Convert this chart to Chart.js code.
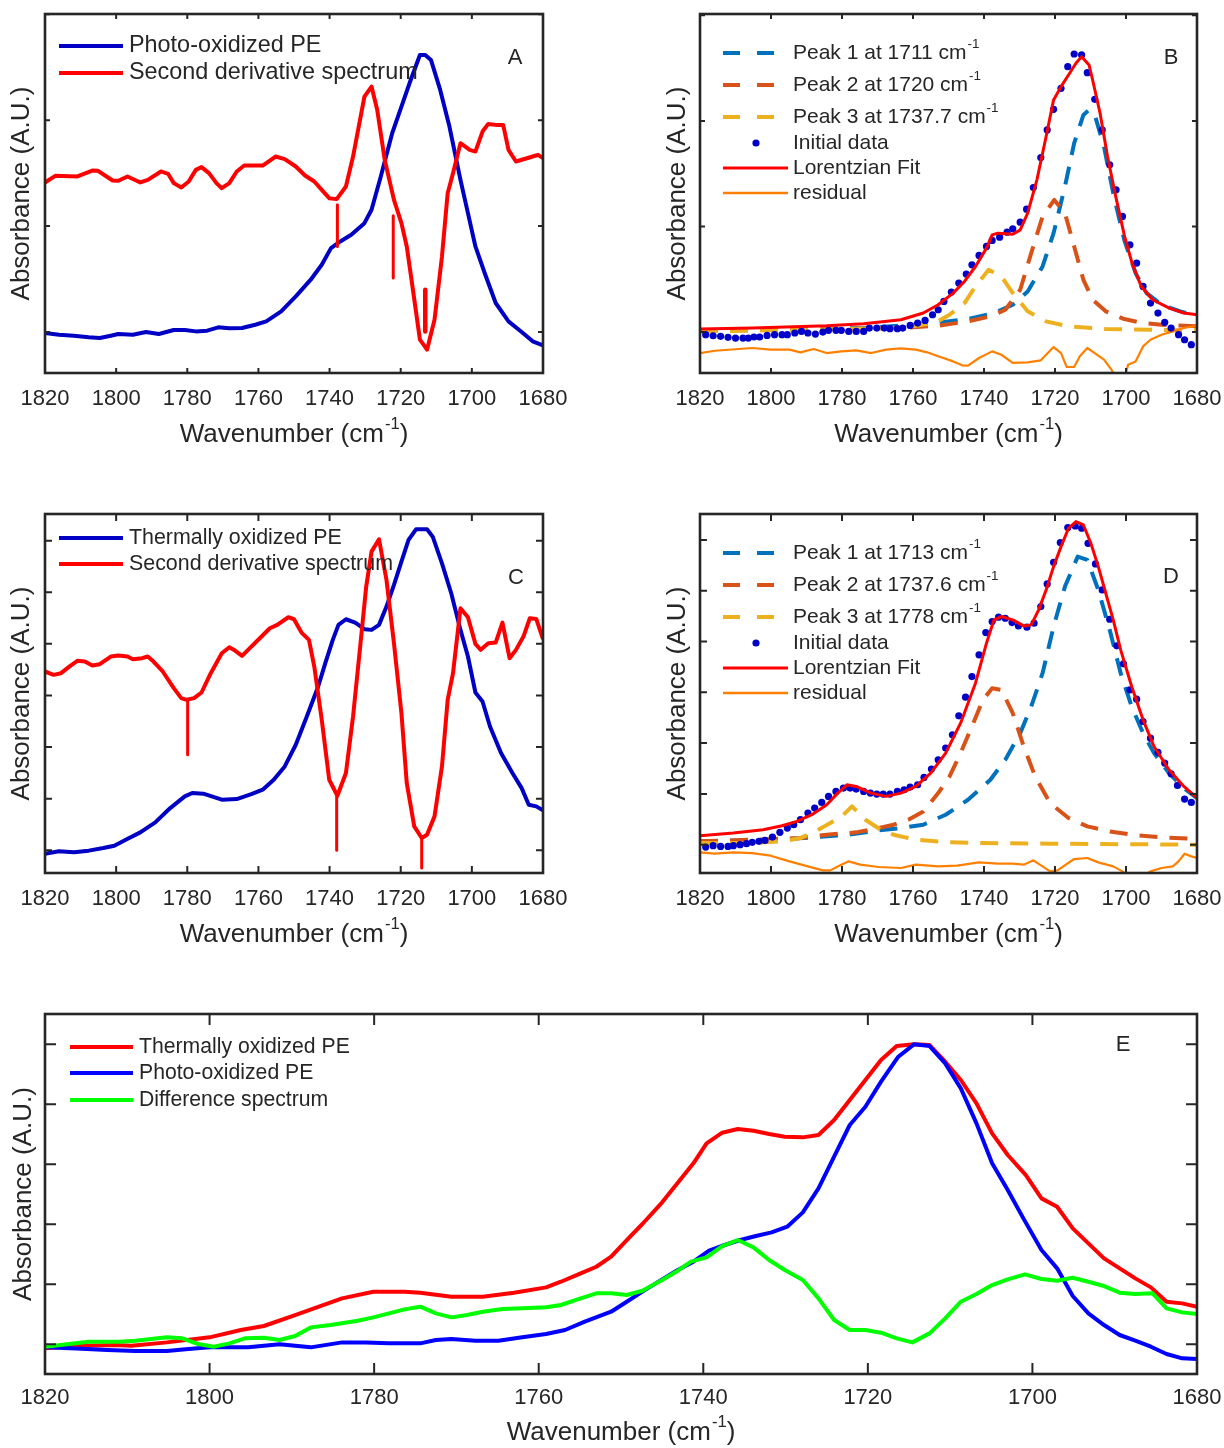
<!DOCTYPE html>
<html>
<head>
<meta charset="utf-8">
<script src="https://cdn.jsdelivr.net/npm/chart.js@4.4.1/dist/chart.umd.min.js"></script>
<style>
  html, body { margin: 0; padding: 0; background: #fff; }
  body { width: 1224px; height: 1448px; position: relative; overflow: hidden; }
  canvas { position: absolute; }
</style>
</head>
<body>
<canvas id="cA" width="612" height="470" style="left:0;top:0"></canvas>
<canvas id="cB" width="612" height="470" style="left:612px;top:0"></canvas>
<canvas id="cC" width="612" height="470" style="left:0;top:500px"></canvas>
<canvas id="cD" width="612" height="470" style="left:612px;top:500px"></canvas>
<canvas id="cE" width="1224" height="448" style="left:0;top:1000px"></canvas>
<script>
// ---------------- data (wavenumber cm-1, absorbance A.U.) ----------------
const xTickVals = [1820, 1800, 1780, 1760, 1740, 1720, 1700, 1680];
const yTicksA = [0, 1, 2, 3];
const yTicksB = [0, 1, 2, 3];
const yTicksC = [0, 1, 2, 3, 4, 5, 6];
const yTicksD = [0, 1, 2, 3, 4, 5, 6];
const yTicksE = [0, 1, 2, 3, 4, 5];
const xTitle = ['Wavenumber (cm', '-1', ')'];
const yTitle = 'Absorbance (A.U.)';
const panelLetters = ['A', 'B', 'C', 'D', 'E'];

// Panel A
const aLabels = ['Photo-oxidized PE', 'Second derivative spectrum'];
const aPhoto = [[1820,-0.01],[1816.1,-0.025],[1811.9,-0.035],[1807.7,-0.05],[1804.6,-0.057],[1801.5,-0.035],[1799.4,-0.019],[1795.3,-0.025],[1791.6,0],[1788.0,-0.019],[1783.8,0.019],[1780.7,0.019],[1777.6,0.006],[1774.4,0.013],[1771.3,0.044],[1768.2,0.035],[1764.6,0.038],[1760.9,0.069],[1757.8,0.1],[1753.6,0.195],[1749.5,0.336],[1745.3,0.494],[1742.2,0.635],[1739.6,0.792],[1737.0,0.855],[1733.9,0.918],[1730.2,1.028],[1728.2,1.154],[1725.6,1.469],[1722.4,1.877],[1719.8,2.129],[1717.2,2.38],[1714.6,2.616],[1713.1,2.616],[1711.5,2.569],[1708.9,2.286],[1706.3,1.94],[1703.2,1.437],[1701.1,1.123],[1699.0,0.808],[1696.4,0.557],[1693.3,0.274],[1689.7,0.1],[1686.0,0],[1682.9,-0.088],[1680,-0.126]];
const aDeriv = [[1820,1.412],[1817.1,1.475],[1810.9,1.469],[1806.7,1.525],[1805.1,1.522],[1801.0,1.431],[1799.4,1.428],[1796.8,1.469],[1793.2,1.412],[1791.1,1.437],[1787.4,1.516],[1785.4,1.494],[1783.8,1.406],[1781.7,1.365],[1779.6,1.421],[1777.6,1.531],[1776.0,1.557],[1773.9,1.5],[1771.8,1.406],[1770.3,1.358],[1768.2,1.406],[1766.1,1.516],[1764.0,1.572],[1758.8,1.572],[1755.2,1.657],[1752.6,1.632],[1749.5,1.563],[1746.9,1.478],[1744.3,1.421],[1742.2,1.343],[1740.1,1.264],[1738.0,1.255],[1735.4,1.374],[1733.4,1.657],[1731.8,1.94],[1730.2,2.223],[1728.2,2.318],[1726.6,2.097],[1724.5,1.626],[1721.9,1.248],[1719.8,1.028],[1718.3,0.808],[1716.7,0.431],[1714.6,-0.072],[1712.6,-0.167],[1710.5,0.116],[1708.4,0.714],[1706.8,1.311],[1705.3,1.5],[1703.2,1.783],[1700.6,1.72],[1699.0,1.704],[1697.0,1.893],[1695.4,1.965],[1693.3,1.956],[1691.2,1.956],[1689.7,1.72],[1687.6,1.61],[1682.9,1.657],[1681.4,1.673],[1680,1.642]];
const aMark1 = [[1737.8,1.201],[1737.8,0.808]];
const aMark2 = [[1722.1,1.097],[1722.1,0.509]];
const aMark3 = [[1713.1,0.40],[1713.1,0.006]];

// Panel B
const bLabels = [['Peak 1 at 1711 cm','-1'],['Peak 2 at 1720 cm','-1'],['Peak 3 at 1737.7 cm','-1'],['Initial data',''],['Lorentzian Fit',''],['residual','']];
const bData = [[1818.4,-0.025],[1816.3,-0.035],[1814.2,-0.041],[1812.1,-0.05],[1810.0,-0.057],[1807.9,-0.057],[1806.4,-0.057],[1804.8,-0.047],[1803.2,-0.047],[1801.1,-0.032],[1799.0,-0.025],[1796.9,-0.025],[1795.4,-0.025],[1793.3,-0.009],[1791.4,0.006],[1789.6,-0.009],[1787.5,-0.019],[1785.4,0],[1783.8,0.016],[1781.7,0.016],[1780.2,0.016],[1778.1,0.006],[1776.0,0.006],[1773.9,0.006],[1772.3,0.038],[1770.2,0.038],[1768.1,0.038],[1766.5,0.032],[1764.4,0.032],[1762.9,0.038],[1760.8,0.063],[1758.7,0.085],[1756.6,0.11],[1754.5,0.164],[1752.9,0.211],[1751.3,0.29],[1749.2,0.379],[1747.1,0.464],[1745.0,0.549],[1743.4,0.637],[1741.4,0.726],[1739.3,0.811],[1737.7,0.868],[1735.6,0.899],[1733.5,0.946],[1731.9,0.978],[1729.8,1.041],[1728.0,1.164],[1726.1,1.369],[1724.0,1.653],[1722.2,1.915],[1720.4,2.11],[1718.3,2.309],[1716.4,2.514],[1714.6,2.634],[1712.5,2.625],[1710.9,2.457],[1708.8,2.205],[1706.7,1.915],[1704.6,1.584],[1702.8,1.347],[1701.0,1.095],[1698.9,0.826],[1697.0,0.653],[1695.2,0.432],[1693.1,0.274],[1691.0,0.18],[1689.1,0.091],[1687.3,0.038],[1685.2,-0.025],[1683.5,-0.073],[1681.6,-0.12]];
const bFit = [[1820,0.028],[1805.3,0.038],[1784.3,0.06],[1773.9,0.079],[1763.4,0.117],[1757.1,0.18],[1752.9,0.259],[1748.7,0.369],[1745.5,0.479],[1742.4,0.621],[1739.3,0.795],[1737.7,0.921],[1736.1,0.937],[1731.9,0.927],[1729.8,0.968],[1727.7,1.126],[1725.1,1.442],[1722.5,1.852],[1720.4,2.199],[1718.3,2.325],[1716.2,2.435],[1714.1,2.546],[1712.5,2.609],[1710.4,2.53],[1709.4,2.388],[1707.3,2.073],[1705.2,1.663],[1703.1,1.316],[1700.4,0.905],[1698.3,0.653],[1695.7,0.432],[1692.5,0.306],[1687.8,0.227],[1683.7,0.18],[1680,0.164]];
const bPeak1 = [[1820,0.013],[1794.8,0.022],[1773.9,0.038],[1755.0,0.079],[1744.5,0.123],[1737.2,0.18],[1731.9,0.259],[1727.7,0.385],[1723.5,0.621],[1720.4,0.937],[1717.2,1.379],[1714.6,1.789],[1712.0,2.057],[1710.4,2.104],[1708.8,2.057],[1706.2,1.757],[1703.6,1.315],[1700.5,0.874],[1697.3,0.558],[1694.2,0.369],[1690.0,0.259],[1684.7,0.196],[1680,0.155]];
const bPeak2 = [[1820,0.013],[1763.4,0.038],[1752.9,0.06],[1744.5,0.101],[1738.2,0.148],[1734.0,0.211],[1729.8,0.401],[1726.7,0.748],[1723.5,1.095],[1720.2,1.252],[1717.2,1.126],[1714.6,0.811],[1712.0,0.495],[1709.4,0.306],[1705.7,0.196],[1700.5,0.123],[1695.2,0.085],[1690.0,0.069],[1680,0.054]];
const bPeak3 = [[1820,0.006],[1763.4,0.038],[1753.9,0.085],[1749.7,0.164],[1745.5,0.274],[1742.4,0.432],[1738.7,0.59],[1735.1,0.527],[1731.9,0.369],[1727.7,0.196],[1722.5,0.101],[1716.2,0.054],[1705.7,0.028],[1680,0.016]];
const bResid = [[1820,-0.199],[1815.8,-0.177],[1805.3,-0.151],[1800.1,-0.167],[1794.8,-0.167],[1791.7,-0.192],[1788.0,-0.161],[1784.3,-0.199],[1780.2,-0.183],[1776.0,-0.174],[1771.8,-0.199],[1767.6,-0.167],[1763.4,-0.155],[1759.2,-0.167],[1756.0,-0.192],[1752.9,-0.23],[1748.7,-0.278],[1746.1,-0.315],[1744.5,-0.319],[1741.4,-0.246],[1737.7,-0.183],[1735.1,-0.215],[1731.9,-0.293],[1727.7,-0.287],[1724.0,-0.268],[1720.4,-0.142],[1718.3,-0.199],[1716.7,-0.331],[1714.6,-0.331],[1713.0,-0.23],[1710.9,-0.151],[1708.8,-0.199],[1706.2,-0.262],[1704.1,-0.356],[1702.0,-0.5],[1700.5,-0.45],[1699.4,-0.309],[1697.3,-0.278],[1695.2,-0.136],[1693.1,-0.073],[1690.0,-0.025],[1686.8,0.006],[1683.7,0.038],[1680,0.06]];

// Panel C
const cLabels = ['Thermally oxidized PE', 'Second derivative spectrum'];
const cThermal = [[1820,-0.065],[1816.1,-0.019],[1811.9,-0.039],[1807.7,-0.006],[1803.6,0.045],[1800.5,0.09],[1797.3,0.206],[1793.2,0.348],[1789.0,0.542],[1784.8,0.819],[1780.7,1.045],[1778.6,1.11],[1775.5,1.097],[1770.3,0.981],[1766.1,0.994],[1762.0,1.09],[1758.8,1.174],[1755.7,1.368],[1752.6,1.626],[1749.5,2.045],[1746.4,2.594],[1743.2,3.174],[1741.2,3.626],[1739.1,4.077],[1737.5,4.368],[1735.4,4.477],[1732.8,4.413],[1730.2,4.284],[1728.2,4.271],[1726.1,4.368],[1724.0,4.723],[1721.9,5.142],[1719.8,5.594],[1717.8,6.013],[1715.7,6.219],[1712.6,6.219],[1711.0,6.077],[1708.4,5.561],[1705.8,4.981],[1703.2,4.271],[1701.1,3.755],[1699.0,3.058],[1697.0,2.884],[1694.9,2.4],[1691.8,1.884],[1688.6,1.497],[1686.0,1.206],[1684.0,0.884],[1681.9,0.852],[1680,0.774]];
const cDeriv = [[1820,3.465],[1817.6,3.4],[1815.5,3.432],[1812.9,3.574],[1810.9,3.671],[1808.8,3.658],[1806.7,3.581],[1804.6,3.606],[1801.5,3.755],[1799.4,3.774],[1796.8,3.755],[1795.3,3.703],[1792.7,3.723],[1791.1,3.755],[1789.5,3.658],[1786.9,3.465],[1783.8,3.142],[1781.7,2.948],[1780.2,2.916],[1778.1,2.948],[1776.0,3.058],[1773.4,3.432],[1770.3,3.819],[1768.2,3.935],[1766.6,3.871],[1764.6,3.768],[1762.0,3.948],[1759.9,4.09],[1756.8,4.303],[1754.7,4.368],[1751.6,4.516],[1750.0,4.477],[1747.9,4.219],[1745.8,4.077],[1744.3,3.561],[1742.2,2.529],[1740.1,1.368],[1737.8,1.058],[1735.4,1.497],[1733.4,2.594],[1731.3,4.013],[1729.7,5.11],[1728.2,5.787],[1726.1,6.026],[1724.0,5.239],[1721.9,4.013],[1719.8,2.658],[1718.3,1.303],[1716.2,0.465],[1714.1,0.239],[1712.6,0.303],[1710.5,0.658],[1708.4,1.626],[1706.8,2.916],[1705.3,3.432],[1703.2,4.69],[1701.1,4.516],[1699.0,4.0],[1697.5,3.884],[1695.4,4.013],[1693.3,4.026],[1691.4,4.413],[1689.4,3.723],[1687.6,3.884],[1685.5,4.142],[1683.7,4.497],[1681.9,4.484],[1680,4.09]];
const cMark1 = [[1779.9,2.916],[1779.9,1.852]];
const cMark2 = [[1738.0,1.045],[1738.0,0]];
const cMark3 = [[1714.1,0.239],[1714.1,-0.342]];

// Panel D
const dLabels = [['Peak 1 at 1713 cm','-1'],['Peak 2 at 1737.6 cm','-1'],['Peak 3 at 1778 cm','-1'],['Initial data',''],['Lorentzian Fit',''],['residual','']];
const dData = [[1818.4,-0.046],[1816.3,-0.02],[1814.2,-0.033],[1812.1,-0.033],[1810.6,-0.02],[1808.7,0],[1806.9,0.02],[1805.3,0.046],[1803.4,0.066],[1801.7,0.085],[1799.6,0.151],[1797.5,0.243],[1795.4,0.328],[1793.6,0.393],[1791.7,0.492],[1789.6,0.623],[1787.7,0.721],[1785.7,0.833],[1783.8,0.951],[1781.7,1.049],[1779.6,1.115],[1777.7,1.115],[1776.0,1.095],[1773.9,1.049],[1772.0,1.016],[1770.2,0.997],[1768.4,0.997],[1766.5,0.997],[1764.4,1.049],[1762.5,1.082],[1760.8,1.134],[1758.7,1.18],[1756.9,1.325],[1754.8,1.489],[1752.9,1.672],[1750.8,1.902],[1748.9,2.164],[1747.1,2.538],[1745.2,2.905],[1743.4,3.311],[1741.4,3.738],[1739.5,4.177],[1737.7,4.393],[1735.9,4.479],[1734.0,4.459],[1732.1,4.374],[1730.3,4.308],[1727.9,4.282],[1725.9,4.361],[1724.0,4.689],[1722.2,5.134],[1720.4,5.561],[1718.5,5.948],[1716.4,6.243],[1714.3,6.275],[1712.5,6.23],[1710.7,5.934],[1708.6,5.528],[1706.7,5.016],[1704.6,4.439],[1702.6,3.915],[1700.7,3.561],[1698.9,3.049],[1697.0,2.866],[1695.2,2.426],[1693.1,2.098],[1691.0,1.816],[1689.1,1.607],[1687.3,1.397],[1685.5,1.167],[1683.5,0.898],[1681.6,0.833]];
const dFit = [[1820,0.177],[1810.6,0.23],[1802.2,0.295],[1796.9,0.374],[1792.7,0.459],[1788.5,0.59],[1784.3,0.787],[1781.2,1.016],[1778.6,1.18],[1776.0,1.148],[1771.8,1.016],[1767.6,0.951],[1763.4,1.016],[1759.2,1.148],[1755.0,1.41],[1750.8,1.803],[1746.6,2.393],[1742.4,3.18],[1739.3,3.967],[1737.2,4.426],[1735.1,4.492],[1731.9,4.426],[1728.8,4.308],[1726.7,4.328],[1724.6,4.623],[1722.5,5.016],[1720.4,5.475],[1718.3,5.869],[1716.2,6.23],[1714.1,6.361],[1712.0,6.295],[1709.9,5.934],[1707.8,5.475],[1705.7,4.951],[1703.6,4.426],[1701.5,3.836],[1698.4,3.115],[1695.2,2.459],[1692.1,1.934],[1687.9,1.475],[1683.7,1.148],[1680,0.918]];
const dPeak1 = [[1820,0.066],[1809.5,0.085],[1799.0,0.098],[1788.5,0.144],[1778.1,0.197],[1769.7,0.282],[1763.4,0.328],[1757.1,0.393],[1750.8,0.59],[1744.5,0.885],[1738.2,1.279],[1734.0,1.672],[1729.8,2.197],[1726.7,2.721],[1723.5,3.377],[1720.4,4.295],[1717.2,5.082],[1713.6,5.672],[1710.9,5.607],[1707.8,5.016],[1704.6,4.23],[1701.5,3.377],[1698.4,2.721],[1695.2,2.197],[1692.1,1.803],[1687.9,1.41],[1683.7,1.115],[1680,0.918]];
const dPeak2 = [[1820,0.066],[1805.3,0.098],[1791.7,0.131],[1784.3,0.197],[1776.0,0.243],[1769.7,0.328],[1765.5,0.393],[1761.3,0.492],[1757.1,0.656],[1752.9,1.016],[1749.7,1.344],[1746.6,1.803],[1743.4,2.328],[1740.3,2.852],[1737.7,3.082],[1735.1,3.049],[1731.9,2.59],[1728.8,1.934],[1725.6,1.344],[1721.4,0.82],[1716.2,0.525],[1710.9,0.361],[1704.6,0.262],[1698.4,0.197],[1690.0,0.144],[1680,0.111]];
const dPeak3 = [[1820,0.033],[1805.3,0.033],[1796.9,0.066],[1791.7,0.131],[1787.5,0.262],[1783.3,0.426],[1779.6,0.59],[1777.2,0.754],[1773.4,0.492],[1769.1,0.295],[1765.5,0.197],[1759.2,0.098],[1750.8,0.052],[1742.4,0.033],[1721.4,0.02],[1680,0]];
const dResid = [[1820,-0.151],[1815.8,-0.177],[1810.6,-0.151],[1805.3,-0.164],[1800.1,-0.216],[1794.8,-0.328],[1789.6,-0.426],[1785.4,-0.505],[1783.3,-0.505],[1780.2,-0.393],[1778.1,-0.328],[1774.9,-0.393],[1769.7,-0.439],[1763.4,-0.459],[1759.2,-0.393],[1752.9,-0.426],[1747.6,-0.413],[1741.4,-0.348],[1736.1,-0.374],[1731.9,-0.374],[1728.8,-0.393],[1726.1,-0.308],[1723.5,-0.426],[1721.4,-0.525],[1719.3,-0.505],[1714.6,-0.282],[1710.9,-0.262],[1707.8,-0.348],[1703.6,-0.426],[1701.0,-0.525],[1699.4,-0.623],[1696.3,-0.656],[1693.1,-0.525],[1690.0,-0.459],[1686.8,-0.426],[1685.2,-0.328],[1683.5,-0.177],[1681.6,-0.23],[1680,-0.262]];

// Panel E
const eLabels = ['Thermally oxidized PE', 'Photo-oxidized PE', 'Difference spectrum'];
const eThermal = [[1820,-0.067],[1816.2,-0.028],[1811.4,-0.011],[1809.5,-0.022],[1805.2,0.033],[1800.0,0.117],[1796.2,0.239],[1793.4,0.306],[1789.6,0.489],[1783.9,0.767],[1780.1,0.878],[1776.3,0.878],[1774.4,0.861],[1770.6,0.794],[1766.8,0.794],[1763.0,0.861],[1759.1,0.95],[1757.3,1.044],[1754.9,1.183],[1753.0,1.294],[1751.2,1.461],[1749.3,1.739],[1747.4,2.006],[1745.0,2.367],[1743.1,2.694],[1741.2,3.017],[1739.6,3.35],[1737.7,3.528],[1735.8,3.589],[1733.9,3.561],[1732.0,3.506],[1730.1,3.461],[1727.9,3.45],[1726.0,3.489],[1724.1,3.739],[1722.2,4.072],[1720.3,4.406],[1718.4,4.739],[1716.5,4.972],[1714.4,5.0],[1712.5,4.989],[1710.6,4.711],[1708.7,4.406],[1706.8,4.017],[1704.9,3.517],[1703.0,3.156],[1700.8,2.822],[1698.9,2.433],[1697.0,2.294],[1695.1,1.933],[1693.2,1.683],[1691.3,1.433],[1689.4,1.267],[1687.5,1.1],[1685.6,0.95],[1683.7,0.711],[1681.8,0.683],[1680,0.628]];
const ePhoto = [[1820,-0.05],[1816.2,-0.067],[1812.4,-0.094],[1809.0,-0.111],[1805.2,-0.111],[1802.9,-0.083],[1800.0,-0.05],[1795.3,-0.05],[1791.5,0],[1787.7,-0.05],[1783.9,0.033],[1781.0,0.033],[1778.2,0.017],[1774.4,0.017],[1772.5,0.072],[1770.6,0.089],[1767.7,0.061],[1764.9,0.061],[1762.0,0.117],[1759.1,0.172],[1756.8,0.239],[1754.4,0.378],[1751.2,0.544],[1749.3,0.711],[1747.4,0.878],[1745.0,1.083],[1743.1,1.239],[1741.2,1.378],[1739.3,1.561],[1737.4,1.656],[1735.5,1.739],[1733.6,1.806],[1731.7,1.867],[1729.8,1.961],[1727.9,2.2],[1726.0,2.6],[1724.1,3.128],[1722.2,3.656],[1720.3,3.961],[1718.4,4.378],[1716.3,4.794],[1714.4,5.0],[1712.5,4.972],[1710.6,4.683],[1708.7,4.267],[1706.8,3.683],[1704.9,3.017],[1703.0,2.572],[1701.1,2.1],[1698.9,1.572],[1697.0,1.267],[1695.1,0.806],[1693.2,0.517],[1691.3,0.322],[1689.4,0.156],[1687.5,0.061],[1685.6,-0.039],[1683.7,-0.161],[1681.8,-0.233],[1680,-0.244]];
const eDiff = [[1820,-0.039],[1818.1,-0.011],[1814.7,0.044],[1810.9,0.044],[1809.0,0.061],[1805.2,0.117],[1803.3,0.1],[1801.4,0.006],[1799.5,-0.039],[1797.6,0.017],[1795.7,0.1],[1793.4,0.111],[1791.5,0.072],[1789.6,0.139],[1787.7,0.283],[1785.3,0.322],[1782.0,0.394],[1780.1,0.45],[1778.2,0.517],[1776.3,0.583],[1774.4,0.628],[1772.5,0.517],[1770.6,0.45],[1768.7,0.489],[1766.8,0.544],[1764.4,0.589],[1762.0,0.6],[1759.1,0.617],[1757.3,0.656],[1754.9,0.767],[1753.0,0.85],[1751.2,0.85],[1749.3,0.822],[1747.4,0.894],[1745.0,1.072],[1743.1,1.228],[1741.5,1.378],[1739.6,1.45],[1737.7,1.639],[1735.8,1.739],[1733.9,1.617],[1732.0,1.406],[1730.1,1.239],[1727.9,1.072],[1726.0,0.767],[1724.1,0.406],[1722.2,0.239],[1720.3,0.239],[1718.4,0.194],[1716.5,0.1],[1714.6,0.033],[1712.5,0.183],[1710.6,0.433],[1708.7,0.711],[1706.8,0.839],[1704.9,0.989],[1703.0,1.083],[1700.9,1.167],[1698.9,1.089],[1697.0,1.061],[1695.1,1.111],[1693.2,1.044],[1691.3,0.972],[1689.4,0.861],[1687.5,0.839],[1685.4,0.85],[1683.7,0.6],[1681.8,0.533],[1680,0.506]];

// ---------------- rendering ----------------
const FONT = '"Liberation Sans", Arial, Helvetica, sans-serif';
const INK = '#262626';
const pts = arr => arr.map(p => ({ x: p[0], y: p[1] }));

function line(data, color, width, dash) {
  return { data: pts(data), borderColor: color, backgroundColor: color, borderWidth: width,
           borderDash: dash || [], pointRadius: 0, tension: 0, fill: false, clip: 0,
           borderCapStyle: 'butt', borderJoinStyle: 'round' };
}
function dots(data, color, r) {
  return { data: pts(data), showLine: false, pointRadius: r, pointBackgroundColor: color,
           pointBorderWidth: 0, borderColor: color, backgroundColor: color, clip: 0 };
}

function drawSupText(ctx, x, y, parts, size, align) {
  const base = parts[0], sup = parts[1] || '', tail = parts[2] || '';
  const supSize = size * 0.64;
  ctx.font = size + 'px ' + FONT;
  const wb = ctx.measureText(base).width;
  const wt = ctx.measureText(tail).width;
  ctx.font = supSize + 'px ' + FONT;
  const ws = sup ? ctx.measureText(sup).width + 1 : 0;
  const total = wb + ws + wt;
  const x0 = align === 'center' ? x - total / 2 : x;
  ctx.textAlign = 'left';
  ctx.textBaseline = 'middle';
  ctx.font = size + 'px ' + FONT;
  ctx.fillText(base, x0, y);
  if (sup) {
    ctx.font = supSize + 'px ' + FONT;
    ctx.fillText(sup, x0 + wb + 1, y - size * 0.42);
  }
  if (tail) {
    ctx.font = size + 'px ' + FONT;
    ctx.fillText(tail, x0 + wb + ws, y);
  }
}

const deco = {
  id: 'deco',
  afterDraw(chart, args, o) {
    const ctx = chart.ctx, a = chart.chartArea, xs = chart.scales.x, ys = chart.scales.y;
    ctx.save();
    ctx.strokeStyle = INK;
    ctx.lineWidth = 2;
    ctx.setLineDash([]);
    ctx.beginPath();
    xTickVals.forEach(v => {
      const px = xs.getPixelForValue(v);
      ctx.moveTo(px, a.bottom); ctx.lineTo(px, a.bottom - o.tl);
      ctx.moveTo(px, a.top); ctx.lineTo(px, a.top + o.tl);
    });
    o.yTicks.forEach(v => {
      const py = ys.getPixelForValue(v);
      ctx.moveTo(a.left, py); ctx.lineTo(a.left + o.tl, py);
      ctx.moveTo(a.right, py); ctx.lineTo(a.right - o.tl, py);
    });
    ctx.stroke();
    ctx.lineWidth = 2.6;
    ctx.strokeRect(a.left, a.top, a.right - a.left, a.bottom - a.top);
    const L = o.legend;
    L.items.forEach((it, i) => {
      const y = L.ys[i];
      ctx.strokeStyle = it.color; ctx.fillStyle = it.color;
      ctx.lineWidth = it.width || 3;
      ctx.setLineDash([]);
      if (it.kind === 'dot') {
        ctx.beginPath(); ctx.arc(L.dotX, y, 3.6, 0, Math.PI * 2); ctx.fill();
      } else if (it.kind === 'dash') {
        ctx.beginPath();
        ctx.moveTo(L.x0, y); ctx.lineTo(L.x0 + 17, y);
        ctx.moveTo(L.x0 + 34, y); ctx.lineTo(L.x0 + 51, y);
        ctx.stroke();
      } else {
        ctx.beginPath(); ctx.moveTo(L.x0, y); ctx.lineTo(L.x1, y); ctx.stroke();
      }
      ctx.fillStyle = INK;
      drawSupText(ctx, L.tx, y, it.label, L.size, 'left');
    });
    ctx.fillStyle = INK;
    ctx.font = '22px ' + FONT;
    ctx.textAlign = 'center'; ctx.textBaseline = 'middle';
    ctx.fillText(o.letter, o.letterX, o.letterY);
    drawSupText(ctx, (a.left + a.right) / 2, a.bottom + o.xtOff, xTitle, 26, 'center');
    ctx.restore();
  }
};

function panel(id, c) {
  return new Chart(document.getElementById(id), {
    type: 'line',
    data: { datasets: c.datasets },
    options: {
      responsive: false, animation: false, devicePixelRatio: 1, events: [],
      layout: { padding: { left: 0, top: c.top, right: c.right, bottom: 0 } },
      scales: {
        x: {
          type: 'linear', reverse: true, min: 1680, max: 1820,
          afterBuildTicks: s => { s.ticks = xTickVals.map(v => ({ value: v })); },
          afterFit: s => { s.height = c.xh; },
          grid: { display: false, drawTicks: true, tickLength: c.labelGap }, border: { display: false },
          ticks: { autoSkip: false, maxRotation: 0, minRotation: 0, padding: 0,
                   color: INK, font: { family: FONT, size: 22 }, callback: v => String(v) }
        },
        y: {
          type: 'linear', min: c.ymin, max: c.ymax,
          afterFit: s => { s.width = c.left; },
          grid: { display: false, drawTicks: false }, border: { display: false },
          ticks: { display: false },
          title: { display: true, text: yTitle, color: INK, font: { family: FONT, size: 26 },
                   padding: { top: c.ytPad, bottom: 0 } }
        }
      },
      plugins: { legend: { display: false }, tooltip: { enabled: false }, deco: c.deco }
    },
    plugins: [deco]
  });
}

const BLUE_D = '#0000C4', RED = '#FF0000';
const C1 = '#0072BD', C2 = '#D95319', C3 = '#EDB120', RES = '#FF8000', DOT = '#0000C8';
const DASH = [18, 12];

panel('cA', {
  top: 14, right: 69, left: 45, xh: 97, labelGap: 13, ytPad: 6, ymin: -0.387, ymax: 3.003,
  datasets: [
    line(aMark3, RED, 4.5), line(aMark2, RED, 3), line(aMark1, RED, 3),
    line(aDeriv, RED, 4), line(aPhoto, BLUE_D, 4)
  ],
  deco: { tl: 5, yTicks: yTicksA, letter: panelLetters[0], letterX: 515, letterY: 58, xtOff: 62,
    legend: { x0: 59, x1: 123, tx: 129, size: 23.4, ys: [46, 73],
      items: [ { label: [aLabels[0]], color: BLUE_D, width: 4 }, { label: [aLabels[1]], color: RED, width: 4 } ] } }
});

panel('cB', {
  top: 14, right: 27, left: 88, xh: 97, labelGap: 13, ytPad: 50, ymin: -0.388, ymax: 3.013,
  datasets: [
    line(bFit, RED, 3), dots(bData, DOT, 3.6), line(bResid, RES, 2.2),
    line(bPeak3, C3, 4, DASH), line(bPeak2, C2, 4, DASH), line(bPeak1, C1, 4, DASH)
  ],
  deco: { tl: 5, yTicks: yTicksB, letter: panelLetters[1], letterX: 1171 - 612, letterY: 58, xtOff: 62,
    legend: { x0: 111, x1: 176, tx: 181, dotX: 144, size: 21, ys: [53, 85, 117, 143, 168, 193],
      items: [
        { label: bLabels[0], color: C1, kind: 'dash', width: 4 },
        { label: bLabels[1], color: C2, kind: 'dash', width: 4 },
        { label: bLabels[2], color: C3, kind: 'dash', width: 4 },
        { label: bLabels[3], color: DOT, kind: 'dot' },
        { label: bLabels[4], color: RED, width: 3 },
        { label: bLabels[5], color: RES, width: 2.5 } ] } }
});

panel('cC', {
  top: 14, right: 69, left: 45, xh: 97, labelGap: 13, ytPad: 6, ymin: -0.439, ymax: 6.516,
  datasets: [
    line(cMark3, RED, 3), line(cMark2, RED, 3), line(cMark1, RED, 3),
    line(cDeriv, RED, 4), line(cThermal, BLUE_D, 4)
  ],
  deco: { tl: 7, yTicks: yTicksC, letter: panelLetters[2], letterX: 516, letterY: 78, xtOff: 62,
    legend: { x0: 59, x1: 123, tx: 129, size: 21.4, ys: [38, 64],
      items: [ { label: [cLabels[0]], color: BLUE_D, width: 4 }, { label: [cLabels[1]], color: RED, width: 4 } ] } }
});

panel('cD', {
  top: 14, right: 27, left: 88, xh: 97, labelGap: 13, ytPad: 50, ymin: -0.557, ymax: 6.511,
  datasets: [
    line(dFit, RED, 3), dots(dData, DOT, 3.6), line(dResid, RES, 2.2),
    line(dPeak3, C3, 4, DASH), line(dPeak2, C2, 4, DASH), line(dPeak1, C1, 4, DASH)
  ],
  deco: { tl: 7, yTicks: yTicksD, letter: panelLetters[3], letterX: 1171 - 612, letterY: 77, xtOff: 62,
    legend: { x0: 111, x1: 176, tx: 181, dotX: 144, size: 21, ys: [53, 85, 117, 143, 168, 193],
      items: [
        { label: dLabels[0], color: C1, kind: 'dash', width: 4 },
        { label: dLabels[1], color: C2, kind: 'dash', width: 4 },
        { label: dLabels[2], color: C3, kind: 'dash', width: 4 },
        { label: dLabels[3], color: DOT, kind: 'dot' },
        { label: dLabels[4], color: RED, width: 3 },
        { label: dLabels[5], color: RES, width: 2.5 } ] } }
});

panel('cE', {
  top: 14, right: 27, left: 45, xh: 74, labelGap: 11, ytPad: 8, ymin: -0.494, ymax: 5.506,
  datasets: [
    line(eDiff, '#00FF00', 4), line(ePhoto, '#0000FF', 4), line(eThermal, RED, 4)
  ],
  deco: { tl: 11, yTicks: yTicksE, letter: panelLetters[4], letterX: 1123, letterY: 45, xtOff: 59,
    legend: { x0: 70, x1: 133, tx: 139, size: 21.2, ys: [47, 73, 100],
      items: [
        { label: [eLabels[0]], color: RED, width: 4 },
        { label: [eLabels[1]], color: '#0000FF', width: 4 },
        { label: [eLabels[2]], color: '#00FF00', width: 4 } ] } }
});
</script>
</body>
</html>
